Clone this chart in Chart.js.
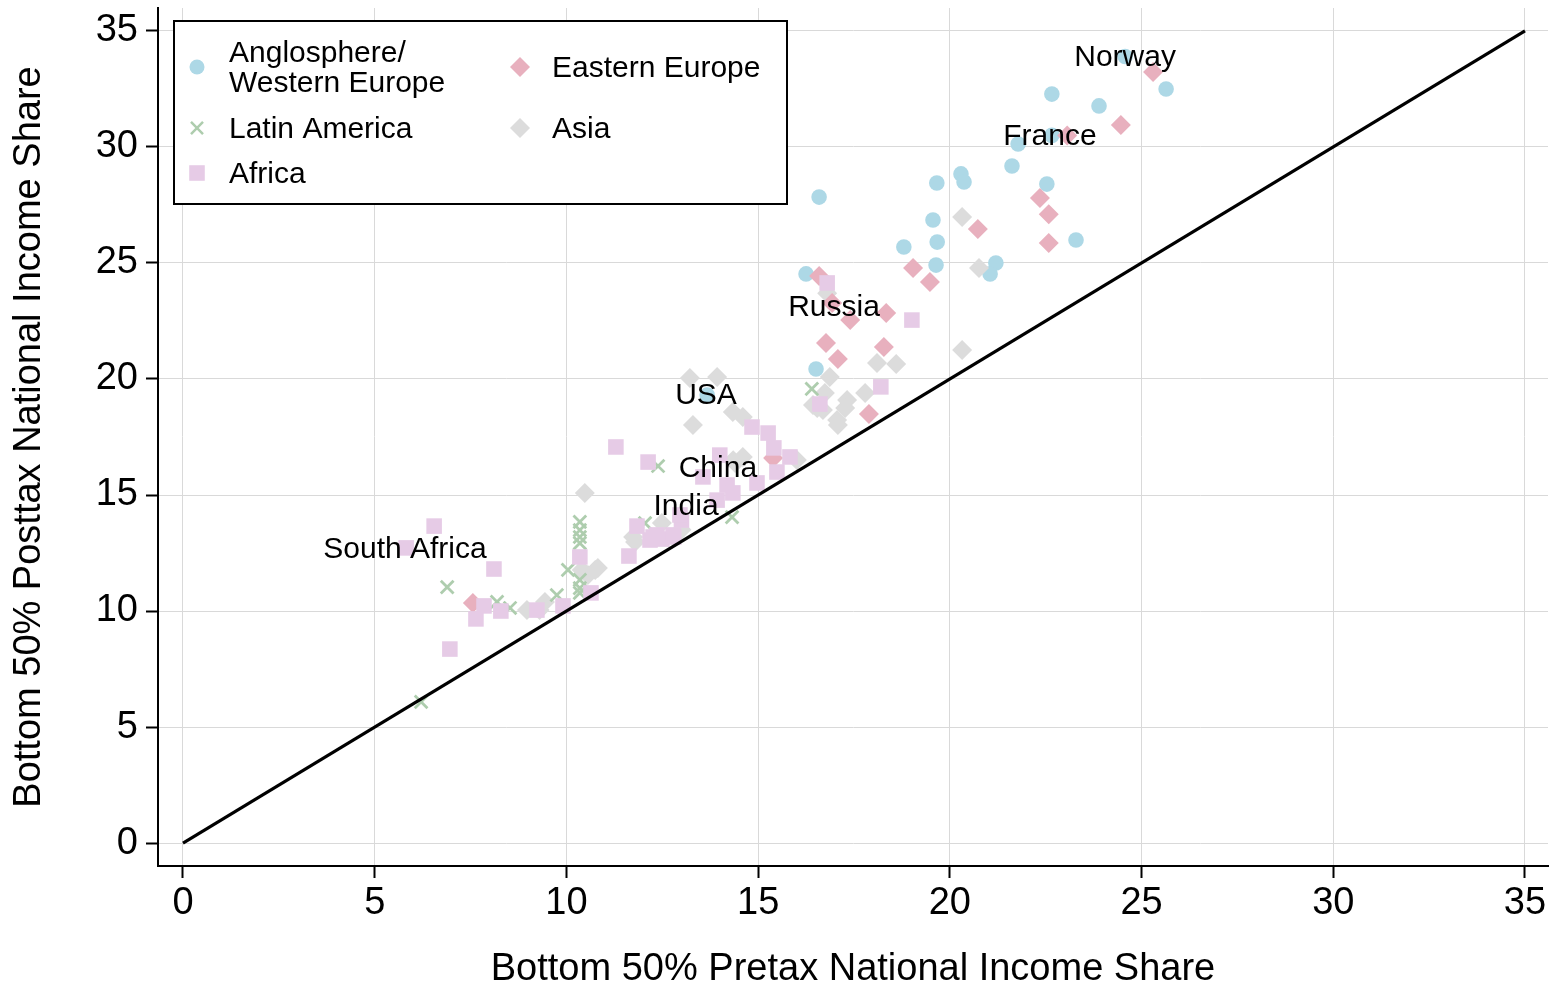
<!DOCTYPE html>
<html>
<head>
<meta charset="utf-8">
<script src="https://cdn.jsdelivr.net/npm/chart.js@4"></script>
<style>
  body { margin: 0; background: #fff; }
</style>
</head>
<body>
<canvas id="incomeChart" width="1558" height="989"></canvas>
<script>
const FONT = "'Liberation Sans', Arial, Helvetica, sans-serif";

// data (pretax share x, posttax share y)
const angloX = [24.57, 25.64, 22.66, 23.89, 22.66, 21.78, 21.62, 20.29, 20.37, 19.66, 22.53, 16.59, 19.56, 19.67, 18.8, 23.29, 19.64, 21.2, 21.05, 16.25, 16.51, 13.67];
const angloY = [33.9, 32.5, 32.28, 31.77, 30.5, 30.13, 29.18, 28.84, 28.49, 28.45, 28.4, 27.84, 26.85, 25.9, 25.69, 25.99, 24.91, 25.0, 24.53, 24.53, 20.43, 19.31];

const eastX = [25.3, 24.46, 23.06, 22.35, 22.58, 22.58, 20.73, 19.04, 19.48, 16.59, 17.4, 18.34, 16.93, 16.77, 17.08, 18.28, 17.89, 7.56, 15.39];
const eastY = [33.23, 30.95, 30.5, 27.8, 27.1, 25.86, 26.47, 24.78, 24.18, 24.44, 22.54, 22.84, 23.28, 21.55, 20.86, 21.38, 18.49, 10.34, 16.59];

const latinX = [6.21, 6.89, 8.19, 8.53, 9.75, 10.35, 10.35, 10.35, 10.35, 10.35, 10.35, 10.35, 10.04, 12.39, 12.05, 14.32, 16.4];
const latinY = [6.08, 11.03, 10.39, 10.13, 10.69, 13.84, 13.49, 13.19, 12.93, 11.34, 10.99, 10.78, 11.77, 16.25, 13.79, 14.05, 19.57];

const africaX = [11.29, 12.13, 6.55, 5.82, 8.11, 7.85, 7.64, 8.29, 6.96, 9.23, 9.91, 10.35, 10.64, 11.84, 11.63, 12.26, 12.49, 12.8, 13.0, 14.84, 15.26, 14.0, 15.41, 15.83, 15.49, 13.56, 14.19, 14.34, 14.97, 13.93, 12.96, 12.36, 12.78, 12.18, 16.8, 19.01, 18.2, 16.61];
const africaY = [17.07, 16.42, 13.66, 12.72, 11.81, 10.22, 9.66, 10.0, 8.36, 10.04, 10.22, 12.33, 10.78, 13.66, 12.37, 13.19, 13.1, 13.19, 13.92, 17.93, 17.67, 16.72, 17.03, 16.64, 15.99, 15.78, 15.43, 15.09, 15.52, 14.78, 14.14, 13.28, 13.28, 13.06, 24.14, 22.54, 19.66, 18.92];

const asiaX = [20.32, 20.76, 20.32, 16.8, 18.1, 18.6, 16.87, 16.74, 16.43, 16.69, 17.32, 17.27, 17.06, 17.08, 17.79, 13.22, 13.93, 13.3, 14.34, 14.6, 14.6, 14.4, 16.01, 10.48, 12.49, 11.74, 11.79, 10.4, 10.75, 10.56, 8.97, 9.44, 9.3, 10.82, 13.0, 16.54, 14.35];
const asiaY = [26.98, 24.78, 21.25, 23.7, 20.69, 20.65, 20.09, 19.4, 18.88, 18.66, 19.1, 18.75, 18.23, 18.02, 19.4, 20.04, 20.09, 18.02, 18.58, 18.36, 16.64, 16.38, 16.51, 15.09, 13.79, 13.19, 12.97, 11.77, 11.77, 11.55, 10.04, 10.39, 10.04, 11.85, 13.5, 18.75, 16.5];

// country labels
const labelText = ["Norway", "France", "Russia", "USA", "China", "India", "South Africa"];
const labelX = [24.57, 22.61, 16.98, 13.64, 13.95, 13.12, 5.79];
const labelY = [33.92, 30.52, 23.15, 19.35, 16.21, 14.57, 12.72];

const tickVals = [0, 5, 10, 15, 20, 25, 30, 35];

const toPoints = (xs, ys) => xs.map((x, i) => ({ x: x, y: ys[i] }));

const colBlue = "#add8e6";
const colPink = "#e8b0be";
const colGreen = "#aecdae";
const colLav = "#e6cbe6";
const colGray = "#dcdcdc";

// labels on the plot
const labelPlugin = {
    id: "countryLabels",
    afterDatasetsDraw(chart) {
        const { ctx, scales } = chart;
        ctx.save();
        ctx.font = "30px " + FONT;
        ctx.fillStyle = "#000";
        ctx.textAlign = "center";
        ctx.textBaseline = "middle";
        labelText.forEach((t, i) => {
            ctx.fillText(t, scales.x.getPixelForValue(labelX[i]), scales.y.getPixelForValue(labelY[i]) + 2);
        });
        ctx.restore();
    },
};

// legend box
const legendItems = [
    { text: ["Anglosphere/", "Western Europe"], style: "circle", r: 7.5, color: colBlue, mx: 197, my: 67 },
    { text: ["Latin America"], style: "crossRot", r: 8.5, color: colGreen, mx: 197, my: 128 },
    { text: ["Africa"], style: "rect", r: 11, color: colLav, mx: 197, my: 173 },
    { text: ["Eastern Europe"], style: "rectRot", r: 10, color: colPink, mx: 520, my: 67 },
    { text: ["Asia"], style: "rectRot", r: 10, color: colGray, mx: 520, my: 128 },
];

const legendPlugin = {
    id: "boxLegend",
    afterDraw(chart) {
        const ctx = chart.ctx;
        ctx.save();
        ctx.fillStyle = "#fff";
        ctx.fillRect(174, 21, 613, 183);
        ctx.strokeStyle = "#000";
        ctx.lineWidth = 2;
        ctx.strokeRect(174, 21, 613, 183);
        ctx.font = "30px " + FONT;
        ctx.textAlign = "left";
        ctx.textBaseline = "middle";
        legendItems.forEach((it) => {
            ctx.fillStyle = it.color;
            ctx.strokeStyle = it.color;
            ctx.lineWidth = 2.5;
            Chart.helpers.drawPoint(ctx, { pointStyle: it.style, radius: it.r, rotation: 0, borderWidth: it.style === "crossRot" ? 2.5 : 0 }, it.mx, it.my);
            ctx.fillStyle = "#000";
            const n = it.text.length;
            it.text.forEach((line, j) => {
                ctx.fillText(line, it.mx + 32, it.my + 2 + (j - (n - 1) / 2) * 30);
            });
        });
        ctx.restore();
    },
};

const axisCommon = {
    type: "linear",
    afterBuildTicks: (s) => { s.ticks = tickVals.map((v) => ({ value: v })); },
    grid: { color: "#d9d9d9", lineWidth: 1, tickColor: "#000", tickLength: 12, tickWidth: 2 },
    border: { display: true, color: "#000", width: 2 },
};

const ctx = document.getElementById("incomeChart").getContext("2d");
new Chart(ctx, {
    type: "scatter",
    data: {
        datasets: [
            {
                type: "line",
                label: "45 degree",
                data: [{ x: 0, y: 0 }, { x: 35, y: 35 }],
                borderColor: "#000",
                borderWidth: 3.2,
                pointRadius: 0,
                order: 0,
            },
            {
                label: "Anglosphere/Western Europe",
                data: toPoints(angloX, angloY),
                pointStyle: "circle",
                pointRadius: 7.8,
                backgroundColor: colBlue,
                borderWidth: 0,
                order: 5,
            },
            {
                label: "Asia",
                data: toPoints(asiaX, asiaY),
                pointStyle: "rectRot",
                pointRadius: 10,
                backgroundColor: colGray,
                borderWidth: 0,
                order: 4,
            },
            {
                label: "Latin America",
                data: toPoints(latinX, latinY),
                pointStyle: "crossRot",
                pointRadius: 9,
                borderColor: colGreen,
                borderWidth: 2.8,
                order: 3,
            },
            {
                label: "Eastern Europe",
                data: toPoints(eastX, eastY),
                pointStyle: "rectRot",
                pointRadius: 10,
                backgroundColor: colPink,
                borderWidth: 0,
                order: 2,
            },
            {
                label: "Africa",
                data: toPoints(africaX, africaY),
                pointStyle: "rect",
                pointRadius: 11,
                backgroundColor: colLav,
                borderWidth: 0,
                order: 1,
            },
        ],
    },
    options: {
        responsive: false,
        animation: false,
        events: [],
        layout: { autoPadding: false, padding: { top: 8, right: 10, left: 0, bottom: 0 } },
        plugins: { legend: { display: false }, tooltip: { enabled: false } },
        scales: {
            x: {
                ...axisCommon,
                min: -0.652,
                max: 35.6,
                afterFit: (s) => { s.height = 123; s.paddingLeft = 0; s.paddingRight = 0; },
                ticks: { color: "#000", font: { size: 38, family: FONT }, padding: 3 },
                title: {
                    display: true,
                    text: "Bottom 50% Pretax National Income Share",
                    color: "#000",
                    font: { size: 38, family: FONT, lineHeight: 1 },
                    padding: { top: 0, bottom: 0 },
                },
            },
            y: {
                ...axisCommon,
                min: -0.99,
                max: 35.99,
                afterFit: (s) => { s.width = 158; s.paddingTop = 0; s.paddingBottom = 0; },
                ticks: { color: "#000", font: { size: 38, family: FONT }, padding: 8 },
                title: {
                    display: true,
                    text: "Bottom 50% Posttax National Income Share",
                    color: "#000",
                    font: { size: 38, family: FONT, lineHeight: 1 },
                    padding: { top: 11, bottom: 0 },
                },
            },
        },
    },
    plugins: [labelPlugin, legendPlugin],
});
</script>
</body>
</html>
